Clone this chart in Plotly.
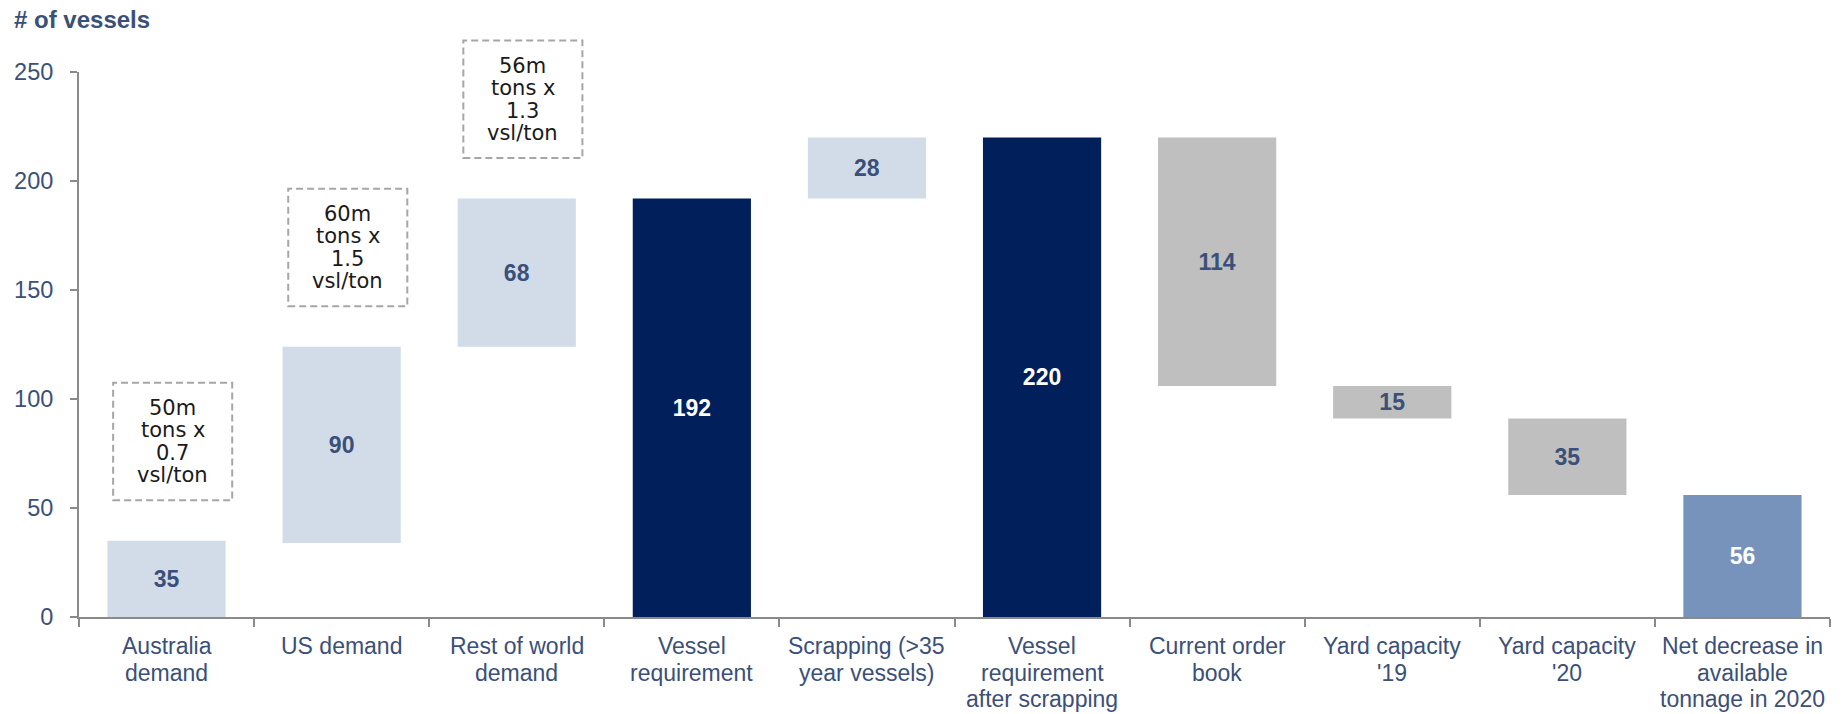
import plotly.graph_objects as go

# ---------------- data ----------------
categories = [
    "Australia<br>demand",
    "US demand",
    "Rest of world<br>demand",
    "Vessel<br>requirement",
    "Scrapping (>35<br>year vessels)",
    "Vessel<br>requirement<br>after scrapping",
    "Current order<br>book",
    "Yard capacity<br>'19",
    "Yard capacity<br>'20",
    "Net decrease in<br>available<br>tonnage in 2020",
]
bar_base = [0, 34, 124, 0, 192, 0, 106, 91, 56, 0]
bar_value = [35, 90, 68, 192, 28, 220, 114, 15, 35, 56]
bar_kind = ["add", "add", "add", "total", "add", "total", "sub", "sub", "sub", "net"]

box_texts = [
    "50m<br>tons x<br>0.7<br>vsl/ton",
    "60m<br>tons x<br>1.5<br>vsl/ton",
    "56m<br>tons x<br>1.3<br>vsl/ton",
]

y_ticks = [0, 50, 100, 150, 200, 250]
Y_MAX = 250
y_title = "# of vessels"

# ---------------- styles ----------------
TXT = "#3b5078"
FONT = "Liberation Sans, Arial, sans-serif"
fill = {"add": "#d1dce8", "total": "#011f5b", "sub": "#bfbfbf", "net": "#7793bc"}
lab_col = {"add": TXT, "total": "#ffffff", "sub": TXT, "net": "#ffffff"}
AXIS = "#8a8a8a"

n = len(categories)
xs = list(range(n))

fig = go.Figure()
fig.add_trace(go.Bar(
    x=xs, y=bar_value, base=bar_base,
    width=0.675,
    marker=dict(color=[fill[k] for k in bar_kind], line=dict(width=0)),
    text=[str(v) for v in bar_value],
    textposition="inside", insidetextanchor="middle", textangle=0,
    constraintext="none",
    textfont=dict(family=FONT, size=23, weight="bold",
                  color=[lab_col[k] for k in bar_kind]),
    hoverinfo="skip",
))

# x-axis category labels (line by line, tighter spacing)
annotations = []
for i, lab in enumerate(categories):
    for j, line in enumerate(lab.split("<br>")):
        annotations.append(dict(
            x=i, y=0, xref="x", yref="paper", yanchor="top", xanchor="center",
            yshift=-(14 + j * 26.7), text=line, showarrow=False,
            font=dict(family=FONT, size=23, color=TXT),
        ))

# dashed boxes above first three bars (yref paper so the top box is not clipped)
shapes = []
GAP, BOXH, XOFF, HALFW = 18.5, 54, 0.035, 0.34
for i, txt in enumerate(box_texts):
    top = bar_base[i] + bar_value[i]
    y0, y1 = top + GAP, top + GAP + BOXH
    shapes.append(dict(
        type="rect", xref="x", yref="paper",
        x0=i + XOFF - HALFW, x1=i + XOFF + HALFW, y0=y0 / Y_MAX, y1=y1 / Y_MAX,
        line=dict(color="#a6a6a6", width=2, dash="7px,4px"),
        fillcolor="rgba(0,0,0,0)",
    ))
    lines = txt.split("<br>")
    for j, line in enumerate(lines):
        annotations.append(dict(
            x=i + XOFF, y=(y0 + y1) / 2, xref="x", yref="y",
            xanchor="center", yanchor="middle",
            yshift=((len(lines) - 1) / 2 - j) * 22.5,
            text=line, showarrow=False,
            font=dict(family="DejaVu Sans, Verdana, sans-serif", size=21, color="#1a1a1a"),
        ))

fig.update_layout(
    width=1842, height=714,
    margin=dict(l=79, r=12, t=72, b=97),
    paper_bgcolor="white", plot_bgcolor="white",
    showlegend=False,
    shapes=shapes,
    annotations=annotations,
    title=dict(text="<b>" + y_title + "</b>", x=14 / 1842, xanchor="left",
               xref="container", yref="container", y=1 - 20 / 714, yanchor="middle",
               font=dict(family=FONT, size=24, color=TXT)),
    xaxis=dict(
        range=[-0.5, n - 0.5], showgrid=False, zeroline=False,
        showline=True, linecolor=AXIS, linewidth=2,
        tickmode="array", tickvals=[i - 0.5 for i in range(n + 1)],
        ticks="outside", ticklen=8, tickcolor=AXIS, tickwidth=1.5,
        showticklabels=False, fixedrange=True,
    ),
    yaxis=dict(
        range=[0, Y_MAX], showgrid=False, zeroline=False,
        showline=True, linecolor=AXIS, linewidth=2,
        tickmode="array", tickvals=y_ticks,
        ticks="outside", ticklen=7, tickcolor=AXIS, tickwidth=1.5,
        ticklabelstandoff=12,
        tickfont=dict(family=FONT, size=23.5, color=TXT), fixedrange=True,
    ),
)

fig.write_html("out.html")
